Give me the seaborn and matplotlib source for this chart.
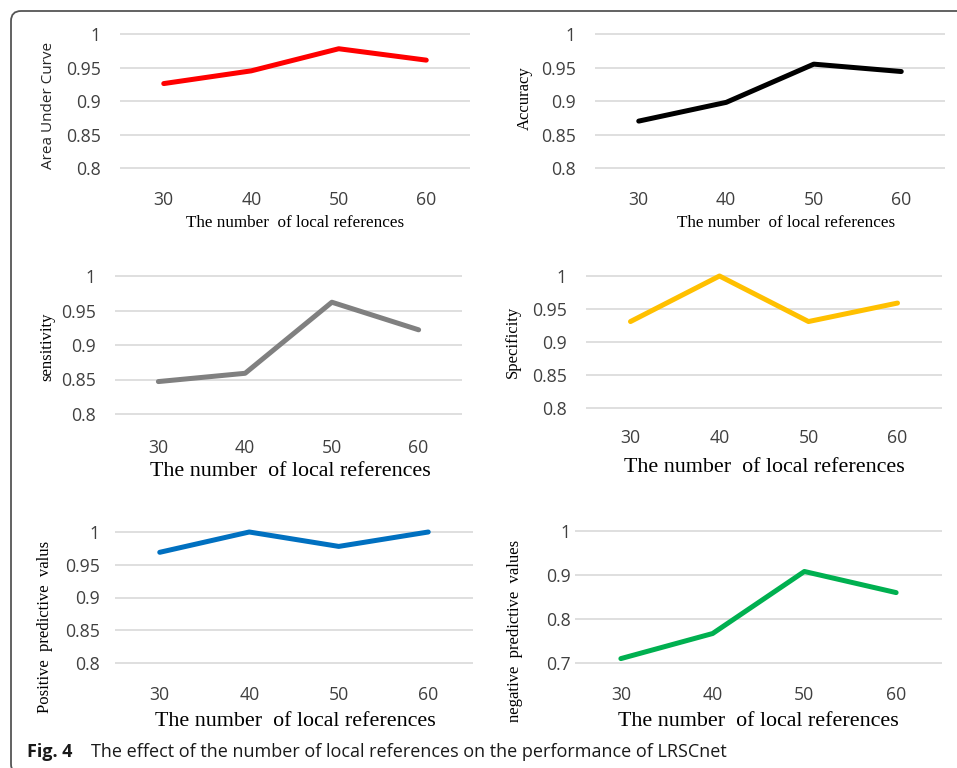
import matplotlib
matplotlib.use("Agg")
import matplotlib.pyplot as plt
import seaborn as sns
from matplotlib.patches import FancyBboxPatch
from matplotlib.transforms import IdentityTransform

# values
refs = [30, 40, 50, 60]
auc = [0.926, 0.945, 0.978, 0.961]
accuracy = [0.870, 0.898, 0.955, 0.944]
sensitivity = [0.847, 0.859, 0.962, 0.922]
specificity = [0.931, 1.0, 0.931, 0.959]
ppv = [0.969, 1.0, 0.978, 1.0]
npv = [0.710, 0.767, 0.908, 0.860]

ticks_a = [0.8, 0.85, 0.9, 0.95, 1.0]
labels_a = ["0.8", "0.85", "0.9", "0.95", "1"]
ticks_b = [0.7, 0.8, 0.9, 1.0]
labels_b = ["0.7", "0.8", "0.9", "1"]

W, H = 957, 768
sns.set_style("white")
plt.rcParams["font.family"] = ["Open Sans", "DejaVu Sans"]
SERIF = ["Liberation Serif", "DejaVu Serif"]

fig = plt.figure(figsize=(W / 100, H / 100), dpi=100)


def fx(x):
    return x / W


def fy(y):
    return 1 - y / H


# (values, colour, ylabel, ylabel serif?, ticks, labels, grid box l/r/top/bottom,
#  ytick pad, xtick pad, ylabel xy, xlabel xy, xlabel size)
panels = [
    (auc, "#ff0000", "Area Under Curve", False, ticks_a, labels_a,
     (120, 470, 34, 168), 14, 14, (48, 105), (295, 223), 12.3),
    (accuracy, "#000000", "Accuracy", True, ticks_a, labels_a,
     (595, 945, 34, 168), 14, 14, (525, 98), (786, 223), 12.3),
    (sensitivity, "#808080", "sensitivity", True, ticks_a, labels_a,
     (115, 462, 276, 414), 14, 15, (47, 347), (290, 472), 15.8),
    (specificity, "#ffc000", "Specificity", True, ticks_a, labels_a,
     (586, 942, 276, 408), 14, 12, (513, 342), (764, 468), 15.8),
    (ppv, "#0070c0", "Positive  predictive  valus", True, ticks_a, labels_a,
     (115, 473, 532, 663), 11, 14, (45, 627), (295, 722), 15.8),
    (npv, "#00b050", "negative  predictive  values", True, ticks_b, labels_b,
     (575, 942, 531, 663), 3, 14, (515, 631), (758, 722), 15.8),
]

PAD = 4
for (vals, color, ylab, serif, ticks, tlabels, box, ypad, xpad,
     ylpos, xlpos, xlsize) in panels:
    l, r, t, b = box
    lo, hi = ticks[0], ticks[-1]
    u = (hi - lo) / (b - t)
    ax = fig.add_axes([fx(l), fy(b + PAD), (r - l) / W, (b - t + 2 * PAD) / H])
    sns.lineplot(x=refs, y=vals, ax=ax, color=color, linewidth=3.6,
                 solid_capstyle="round")
    ax.set_xlim(25, 65)
    ax.set_ylim(lo - PAD * u, hi + PAD * u)
    ax.set_yticks(ticks)
    ax.set_yticklabels(tlabels)
    ax.set_xticks(refs)
    ax.set_xticklabels([str(v) for v in refs])
    ax.yaxis.grid(True, color="#d9d9d9", linewidth=1.2)
    ax.xaxis.grid(False)
    for s in ax.spines.values():
        s.set_visible(False)
    ax.tick_params(axis="y", length=0, pad=ypad, labelsize=12.7, labelcolor="#404040")
    ax.tick_params(axis="x", length=0, pad=xpad, labelsize=12.7, labelcolor="#404040")
    ax.set_xlabel("")
    ax.set_ylabel("")

    fig.text(fx(xlpos[0]), fy(xlpos[1]), "The number  of local references",
             family=SERIF, fontsize=xlsize, ha="center", va="center", color="black")
    if serif:
        fig.text(fx(ylpos[0]), fy(ylpos[1]), ylab, family=SERIF, fontsize=12,
                 rotation=90, ha="center", va="center", color="black")
    else:
        fig.text(fx(ylpos[0]), fy(ylpos[1]), ylab, fontsize=11,
                 rotation=90, ha="center", va="center", color="#262626")

# caption
fig.text(fx(27), fy(757), "Fig. 4", fontsize=13, fontweight="bold",
         ha="left", va="baseline", color="#1a1a1a")
fig.text(fx(91), fy(757),
         "The effect of the number of local references on the performance of LRSCnet",
         fontsize=13, ha="left", va="baseline", color="#1a1a1a")

# rounded frame around the figure (pixel coordinates)
frame = FancyBboxPatch((11, -6), 1200, H - 11 + 6,
                       boxstyle="round,pad=0,rounding_size=10",
                       transform=IdentityTransform(), facecolor="none",
                       edgecolor="#555555", linewidth=1.3)
fig.patches.append(frame)

fig.savefig("out.png", dpi=100)
